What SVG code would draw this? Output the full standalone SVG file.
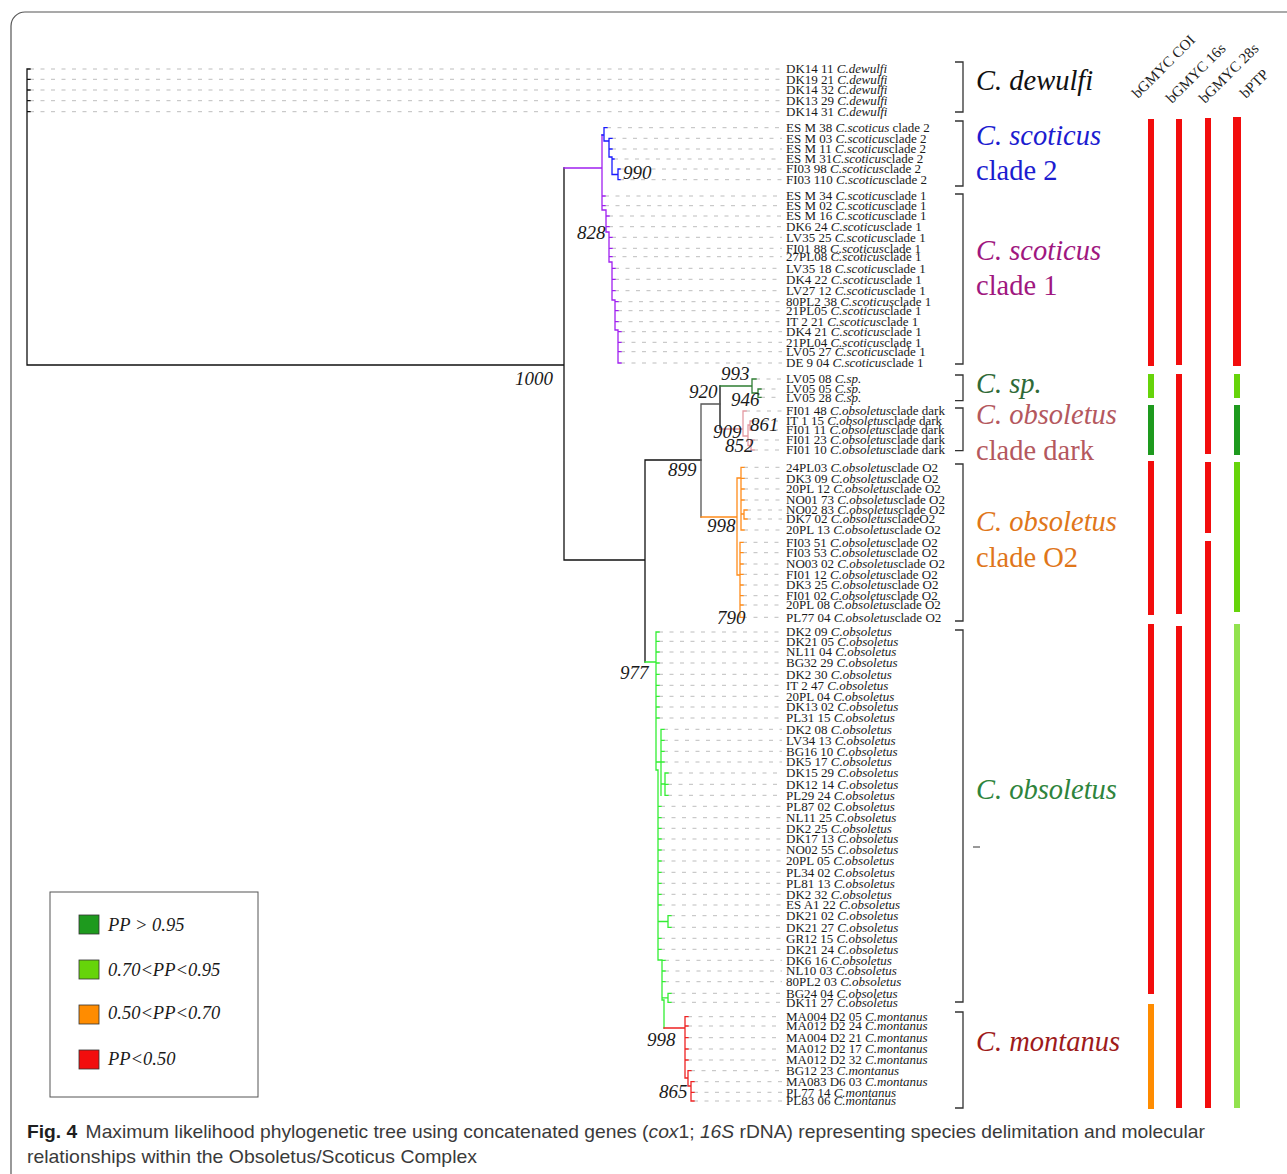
<svg xmlns="http://www.w3.org/2000/svg" width="1287" height="1174" viewBox="0 0 1287 1174">
<style>
.lf{font-family:"Liberation Serif",serif;font-size:13px;fill:#1a1a1a}
.i{font-style:italic}
.dash{fill:none;stroke:#bdbdbd;stroke-width:1;stroke-dasharray:4 6.5}
.br{fill:none;stroke-width:1.3;stroke-linecap:square}
.nl{font-family:"Liberation Serif",serif;font-style:italic;font-size:19px;fill:#1a1a1a}
.cl{font-family:"Liberation Serif",serif;font-size:28.5px}
.bk{fill:none;stroke:#333;stroke-width:1.3}
.hd{font-family:"Liberation Serif",serif;font-size:15px;fill:#222}
.lg{font-family:"Liberation Serif",serif;font-style:italic;font-size:18.5px;fill:#1a1a1a}
.sq{stroke:#333;stroke-width:0.8}
.cap{font-family:"Liberation Sans",sans-serif;font-size:18.5px;fill:#3a3a3a}
</style>
<rect x="11" y="12" width="1300" height="1220" rx="14" fill="#fff" stroke="#555" stroke-width="1.2"/>

<g id="connectors">
<path class="dash" d="M30,69H782M30,79.3H782M30,90H782M30,100.7H782M30,111.7H782
M607,127.7H782M612,138.3H782M612,149H782M614,159H782M620,169H782M620,179.7H782
M605,196H782M605,205.7H782M609,216H782M609,226.7H782M612,237.3H782M612,248.3H782M612,256.7H782M615,268.3H782M615,279.3H782M615,290.7H782M618,301.7H782M618,310.7H782M618,321.7H782M621,331.7H782M621,342.3H782M621,351.7H782M621,363H782
M756,379H782M761,389H782M761,397.3H782
M746,411H782M753,421H782M753,430H782M754,440H782M754,450H782
M744,467.3H782M744,478.3H782M744,489H782M744,500H782M747,510H782M747,519H782M744,530H782M743,542.3H782M743,552.7H782M743,564H782M743,574.3H782M743,585H782M743,595.7H782M743,605H782M743,617.3H782
M659,632H782M659,641.3H782M659,652H782M659,663H782M659,674.3H782M659,685.3H782M659,696.3H782M659,707H782M659,718H782
M664,729.3H782M664,740.3H782M664,751.3H782M664,762H782M668,773H782M668,784.3H782M668,795.3H782
M661,806.3H782M661,817.7H782M661,828.3H782M661,839H782M661,850H782M661,861H782M661,872.3H782M661,883.3H782M661,894.3H782M661,905H782
M671,915.7H782M671,927.3H782M661,938.3H782M661,949.3H782M665,960.3H782M665,971H782M665,981.7H782M671,993.3H782M671,1002.3H782
M688,1016.7H782M688,1026H782M688,1037.7H782M688,1049H782M688,1060H782M691,1070.7H782M694,1081.7H782M694,1092.3H782M694,1101H782"/>
<!-- backbone -->
<path class="br" stroke="#111" d="M27,69V365M27,69H30M27,79.3H30M27,90H30M27,100.7H30M27,111.7H30M27,365H564M564,168V560M564,560H645M645,460V662M645,460H701M720,386V429"/>
<path class="br" stroke="#555" stroke-width="1.6" d="M701,404V517M701,404H720"/>
<!-- scoticus clade 1 -->
<path class="br" stroke="#a020f0" d="M564,168H602M602,135V210H606V232H609V262H612V300H615V330H618V363
M602,196H605M602,205.7H605M606,216H609M606,226.7H609M609,237.3H612M609,248.3H612M609,256.7H612M612,268.3H615M612,279.3H615M612,290.7H615M615,301.7H618M615,310.7H618M615,321.7H618M618,331.7H621M618,342.3H621M618,351.7H621M618,363H621"/>
<!-- scoticus clade 2 -->
<path class="br" stroke="#1a1aff" d="M602,135H604M604,127.7V141M604,127.7H607M604,141H609M609,138.3V157M609,138.3H612M609,149H612M609,157H612M612,157V174.5M612,159H614M612,174.5H618M618,169V179.7M618,169H620M618,179.7H620"/>
<!-- C. sp. -->
<path class="br" stroke="#2e7d32" d="M720,386H752M752,379V393M752,379H756M752,393H758M758,389V397.3M758,389H761M758,397.3H761"/>
<!-- clade dark -->
<path class="br" stroke="#e39aa2" d="M720,429H743M743,411V436M743,411H746M743,436H748M748,425V445.5M748,425H750M750,421V430M750,421H753M750,430H753M748,445.5H751M751,440V450M751,440H754M751,450H754"/>
<!-- clade O2 -->
<path class="br" stroke="#ff8c1a" d="M701,517H737M737,478V575M737,478H741M741,467.3V530M741,467.3H744M741,478.3H744M741,489H744M741,500H744M741,514H744M744,510V519M744,510H747M744,519H747M741,530H744
M737,575H740M740,542.3V617.3M740,542.3H743M740,552.7H743M740,564H743M740,574.3H743M740,585H743M740,595.7H743M740,605H743M740,617.3H743"/>
<!-- obsoletus -->
<path class="br" stroke="#33ee33" d="M645,662H656M656,632V770H658V960H662V1000H664V1028
M656,632H659M656,641.3H659M656,652H659M656,663H659M656,674.3H659M656,685.3H659M656,696.3H659M656,707H659M656,718H659
M656,762H661M661,729.3V795.3M661,729.3H664M661,740.3H664M661,751.3H664M661,762H664M661,784H665M665,773V795.3M665,773H668M665,784.3H668M665,795.3H668
M658,806.3H661M658,817.7H661M658,828.3H661M658,839H661M658,850H661M658,861H661M658,872.3H661M658,883.3H661M658,894.3H661M658,905H661
M658,921.5H668M668,915.7V927.3M668,915.7H671M668,927.3H671M658,938.3H661M658,949.3H661
M662,960.3H665M662,971H665M662,981.7H665M662,997.8H668M668,993.3V1002.3M668,993.3H671M668,1002.3H671"/>
<!-- montanus -->
<path class="br" stroke="#ee2222" d="M664,1028H685M685,1016.7V1078M685,1016.7H688M685,1026H688M685,1037.7H688M685,1049H688M685,1060H688M685,1078H688M688,1070.7V1086M688,1070.7H691M688,1086H691M691,1081.7V1101M691,1081.7H694M691,1092.3H694M691,1101H694"/>
</g>

<g id="node-labels">
<text class="nl" x="623" y="179">990</text>
<text class="nl" x="577" y="239">828</text>
<text class="nl" x="515" y="385">1000</text>
<text class="nl" x="721" y="380">993</text>
<text class="nl" x="689" y="398">920</text>
<text class="nl" x="731" y="406">946</text>
<text class="nl" x="750" y="431">861</text>
<text class="nl" x="713" y="438">909</text>
<text class="nl" x="725" y="452">852</text>
<text class="nl" x="668" y="476">899</text>
<text class="nl" x="707" y="532">998</text>
<text class="nl" x="717" y="624">790</text>
<text class="nl" x="620" y="679">977</text>
<text class="nl" x="647" y="1046">998</text>
<text class="nl" x="659" y="1098">865</text>
</g>

<g id="clade-dewulfi" class="lf">
<text x="786" y="73.3">DK14 11 <tspan class="i">C.dewulfi</tspan></text>
<text x="786" y="83.6">DK19 21 <tspan class="i">C.dewulfi</tspan></text>
<text x="786" y="94.3">DK14 32 <tspan class="i">C.dewulfi</tspan></text>
<text x="786" y="105">DK13 29 <tspan class="i">C.dewulfi</tspan></text>
<text x="786" y="116">DK14 31 <tspan class="i">C.dewulfi</tspan></text>
</g>
<g id="clade-scoticus-2" class="lf">
<text x="786" y="132">ES M 38 <tspan class="i">C.scoticus</tspan> clade 2</text>
<text x="786" y="142.6">ES M 03 <tspan class="i">C.scoticus</tspan>clade 2</text>
<text x="786" y="153.3">ES M 11 <tspan class="i">C.scoticus</tspan>clade 2</text>
<text x="786" y="163.3">ES M 31<tspan class="i">C.scoticus</tspan>clade 2</text>
<text x="786" y="173.3">FI03 98 <tspan class="i">C.scoticus</tspan>clade 2</text>
<text x="786" y="184">FI03 110 <tspan class="i">C.scoticus</tspan>clade 2</text>
</g>
<g id="clade-scoticus-1" class="lf">
<text x="786" y="200.3">ES M 34 <tspan class="i">C.scoticus</tspan>clade 1</text>
<text x="786" y="210">ES M 02 <tspan class="i">C.scoticus</tspan>clade 1</text>
<text x="786" y="220.3">ES M 16 <tspan class="i">C.scoticus</tspan>clade 1</text>
<text x="786" y="231">DK6 24 <tspan class="i">C.scoticus</tspan>clade 1</text>
<text x="786" y="241.6">LV35 25 <tspan class="i">C.scoticus</tspan>clade 1</text>
<text x="786" y="252.6">FI01 88 <tspan class="i">C.scoticus</tspan>clade 1</text>
<text x="786" y="261">27PL08 <tspan class="i">C.scoticus</tspan>clade 1</text>
<text x="786" y="272.6">LV35 18 <tspan class="i">C.scoticus</tspan>clade 1</text>
<text x="786" y="283.6">DK4 22 <tspan class="i">C.scoticus</tspan>clade 1</text>
<text x="786" y="295">LV27 12 <tspan class="i">C.scoticus</tspan>clade 1</text>
<text x="786" y="306">80PL2 38 <tspan class="i">C.scoticus</tspan>clade 1</text>
<text x="786" y="315">21PL05 <tspan class="i">C.scoticus</tspan>clade 1</text>
<text x="786" y="326">IT 2 21 <tspan class="i">C.scoticus</tspan>clade 1</text>
<text x="786" y="336">DK4 21 <tspan class="i">C.scoticus</tspan>clade 1</text>
<text x="786" y="346.6">21PL04 <tspan class="i">C.scoticus</tspan>clade 1</text>
<text x="786" y="356">LV05 27 <tspan class="i">C.scoticus</tspan>clade 1</text>
<text x="786" y="367.3">DE 9 04 <tspan class="i">C.scoticus</tspan>clade 1</text>
</g>
<g id="clade-sp" class="lf">
<text x="786" y="383.3">LV05 08 <tspan class="i">C.sp.</tspan></text>
<text x="786" y="393.3">LV05 05 <tspan class="i">C.sp.</tspan></text>
<text x="786" y="401.6">LV05 28 <tspan class="i">C.sp.</tspan></text>
</g>
<g id="clade-dark" class="lf">
<text x="786" y="415.3">FI01 48 <tspan class="i">C.obsoletus</tspan>clade dark</text>
<text x="786" y="425.3">IT 1 15 <tspan class="i">C.obsoletus</tspan>clade dark</text>
<text x="786" y="434.3">FI01 11 <tspan class="i">C.obsoletus</tspan>clade dark</text>
<text x="786" y="444.3">FI01 23 <tspan class="i">C.obsoletus</tspan>clade dark</text>
<text x="786" y="454.3">FI01 10 <tspan class="i">C.obsoletus</tspan>clade dark</text>
</g>
<g id="clade-O2" class="lf">
<text x="786" y="471.6">24PL03 <tspan class="i">C.obsoletus</tspan>clade O2</text>
<text x="786" y="482.6">DK3 09 <tspan class="i">C.obsoletus</tspan>clade O2</text>
<text x="786" y="493.3">20PL 12 <tspan class="i">C.obsoletus</tspan>clade O2</text>
<text x="786" y="504.3">NO01 73 <tspan class="i">C.obsoletus</tspan>clade O2</text>
<text x="786" y="514.3">NO02 83 <tspan class="i">C.obsoletus</tspan>clade O2</text>
<text x="786" y="523.3">DK7 02 <tspan class="i">C.obsoletus</tspan>cladeO2</text>
<text x="786" y="534.3">20PL 13 <tspan class="i">C.obsoletus</tspan>clade O2</text>
<text x="786" y="546.6">FI03 51 <tspan class="i">C.obsoletus</tspan>clade O2</text>
<text x="786" y="557">FI03 53 <tspan class="i">C.obsoletus</tspan>clade O2</text>
<text x="786" y="568.3">NO03 02 <tspan class="i">C.obsoletus</tspan>clade O2</text>
<text x="786" y="578.6">FI01 12 <tspan class="i">C.obsoletus</tspan>clade O2</text>
<text x="786" y="589.3">DK3 25 <tspan class="i">C.obsoletus</tspan>clade O2</text>
<text x="786" y="600">FI01 02 <tspan class="i">C.obsoletus</tspan>clade O2</text>
<text x="786" y="609.3">20PL 08 <tspan class="i">C.obsoletus</tspan>clade O2</text>
<text x="786" y="621.6">PL77 04 <tspan class="i">C.obsoletus</tspan>clade O2</text>
</g>
<g id="clade-obsoletus" class="lf">
<text x="786" y="636.3">DK2 09 <tspan class="i">C.obsoletus</tspan></text>
<text x="786" y="645.6">DK21 05 <tspan class="i">C.obsoletus</tspan></text>
<text x="786" y="656.3">NL11 04 <tspan class="i">C.obsoletus</tspan></text>
<text x="786" y="667.3">BG32 29 <tspan class="i">C.obsoletus</tspan></text>
<text x="786" y="678.6">DK2 30 <tspan class="i">C.obsoletus</tspan></text>
<text x="786" y="689.6">IT 2 47 <tspan class="i">C.obsoletus</tspan></text>
<text x="786" y="700.6">20PL 04 <tspan class="i">C.obsoletus</tspan></text>
<text x="786" y="711.3">DK13 02 <tspan class="i">C.obsoletus</tspan></text>
<text x="786" y="722.3">PL31 15 <tspan class="i">C.obsoletus</tspan></text>
<text x="786" y="733.6">DK2 08 <tspan class="i">C.obsoletus</tspan></text>
<text x="786" y="744.6">LV34 13 <tspan class="i">C.obsoletus</tspan></text>
<text x="786" y="755.6">BG16 10 <tspan class="i">C.obsoletus</tspan></text>
<text x="786" y="766.3">DK5 17 <tspan class="i">C.obsoletus</tspan></text>
<text x="786" y="777.3">DK15 29 <tspan class="i">C.obsoletus</tspan></text>
<text x="786" y="788.6">DK12 14 <tspan class="i">C.obsoletus</tspan></text>
<text x="786" y="799.6">PL29 24 <tspan class="i">C.obsoletus</tspan></text>
<text x="786" y="810.6">PL87 02 <tspan class="i">C.obsoletus</tspan></text>
<text x="786" y="822">NL11 25 <tspan class="i">C.obsoletus</tspan></text>
<text x="786" y="832.6">DK2 25 <tspan class="i">C.obsoletus</tspan></text>
<text x="786" y="843.3">DK17 13 <tspan class="i">C.obsoletus</tspan></text>
<text x="786" y="854.3">NO02 55 <tspan class="i">C.obsoletus</tspan></text>
<text x="786" y="865.3">20PL 05 <tspan class="i">C.obsoletus</tspan></text>
<text x="786" y="876.6">PL34 02 <tspan class="i">C.obsoletus</tspan></text>
<text x="786" y="887.6">PL81 13 <tspan class="i">C.obsoletus</tspan></text>
<text x="786" y="898.6">DK2 32 <tspan class="i">C.obsoletus</tspan></text>
<text x="786" y="909.3">ES A1 22 <tspan class="i">C.obsoletus</tspan></text>
<text x="786" y="920">DK21 02 <tspan class="i">C.obsoletus</tspan></text>
<text x="786" y="931.6">DK21 27 <tspan class="i">C.obsoletus</tspan></text>
<text x="786" y="942.6">GR12 15 <tspan class="i">C.obsoletus</tspan></text>
<text x="786" y="953.6">DK21 24 <tspan class="i">C.obsoletus</tspan></text>
<text x="786" y="964.6">DK6 16 <tspan class="i">C.obsoletus</tspan></text>
<text x="786" y="975.3">NL10 03 <tspan class="i">C.obsoletus</tspan></text>
<text x="786" y="986">80PL2 03 <tspan class="i">C.obsoletus</tspan></text>
<text x="786" y="997.6">BG24 04 <tspan class="i">C.obsoletus</tspan></text>
<text x="786" y="1006.6">DK11 27 <tspan class="i">C.obsoletus</tspan></text>
</g>
<g id="clade-montanus" class="lf">
<text x="786" y="1021">MA004 D2 05 <tspan class="i">C.montanus</tspan></text>
<text x="786" y="1030.3">MA012 D2 24 <tspan class="i">C.montanus</tspan></text>
<text x="786" y="1042">MA004 D2 21 <tspan class="i">C.montanus</tspan></text>
<text x="786" y="1053.3">MA012 D2 17 <tspan class="i">C.montanus</tspan></text>
<text x="786" y="1064.3">MA012 D2 32 <tspan class="i">C.montanus</tspan></text>
<text x="786" y="1075">BG12 23 <tspan class="i">C.montanus</tspan></text>
<text x="786" y="1086">MA083 D6 03 <tspan class="i">C.montanus</tspan></text>
<text x="786" y="1096.6">PL77 14 <tspan class="i">C.montanus</tspan></text>
<text x="786" y="1105.3">PL83 06 <tspan class="i">C.montanus</tspan></text>
</g>

<g id="brackets">
<path class="bk" d="M955,62H963V112H955M955,121H963V186H955M955,194H963V364H955M955,375H963V400.7H955M955,408H963V450.7H955M955,464H963V621H955M955,630H963V1002H955M955,1012H963V1108H955"/>
<path stroke="#333" stroke-width="1" d="M973,847H980"/>
</g>

<g id="species-labels" class="cl">
<text x="976" y="90" fill="#111" font-style="italic">C. dewulfi</text>
<text x="976" y="145" fill="#1c1cd0" font-style="italic">C. scoticus</text>
<text x="976" y="180" fill="#1c1cd0">clade 2</text>
<text x="976" y="260" fill="#a0177f" font-style="italic">C. scoticus</text>
<text x="976" y="295" fill="#a0177f">clade 1</text>
<text x="976" y="393" fill="#2f6a38" font-style="italic">C. sp.</text>
<text x="976" y="424" fill="#b4585e" font-style="italic">C. obsoletus</text>
<text x="976" y="460" fill="#b4585e">clade dark</text>
<text x="976" y="531" fill="#e0761a" font-style="italic">C. obsoletus</text>
<text x="976" y="567" fill="#e0761a">clade O2</text>
<text x="976" y="799" fill="#2e843c" font-style="italic">C. obsoletus</text>
<text x="976" y="1051" fill="#9e1b1b" font-style="italic">C. montanus</text>
</g>

<g id="delimitation-headers" class="hd">
<text transform="translate(1138,99) rotate(-45)">bGMYC COI</text>
<text transform="translate(1172,104) rotate(-45)">bGMYC 16s</text>
<text transform="translate(1205,104) rotate(-45)">bGMYC 28s</text>
<text transform="translate(1246,99) rotate(-45)">bPTP</text>
</g>

<g id="delimitation-bars">
<rect x="1148" y="119" width="6" height="247" fill="#f20d0d"/>
<rect x="1148" y="374" width="6" height="24" fill="#66d40a"/>
<rect x="1148" y="405" width="6" height="50" fill="#1e9a1e"/>
<rect x="1148" y="461" width="6" height="154" fill="#f20d0d"/>
<rect x="1148" y="624" width="6" height="370" fill="#f20d0d"/>
<rect x="1148" y="1004" width="6" height="105" fill="#ff8c00"/>
<rect x="1176" y="119" width="6" height="246" fill="#f20d0d"/>
<rect x="1176" y="374" width="6" height="240" fill="#f20d0d"/>
<rect x="1176" y="626" width="6" height="482" fill="#f20d0d"/>
<rect x="1205" y="118" width="6" height="336" fill="#f20d0d"/>
<rect x="1205" y="462" width="6" height="71" fill="#f20d0d"/>
<rect x="1205" y="541" width="6" height="567" fill="#f20d0d"/>
<rect x="1233" y="117" width="8" height="249" fill="#f20d0d"/>
<rect x="1234" y="374" width="6" height="24" fill="#66d40a"/>
<rect x="1234" y="405" width="6" height="50" fill="#1e9a1e"/>
<rect x="1234" y="462" width="6" height="150" fill="#66d40a"/>
<rect x="1234" y="624" width="6" height="484" fill="#92e24e"/>
</g>

<g id="legend">
<rect x="50" y="892" width="208" height="205" fill="#fff" stroke="#555" stroke-width="1"/>
<rect class="sq" x="79" y="915" width="20" height="19" fill="#1e9a1e"/>
<rect class="sq" x="79" y="960" width="20" height="19" fill="#66d40a"/>
<rect class="sq" x="79" y="1005" width="20" height="19" fill="#ff8c00"/>
<rect class="sq" x="79" y="1050" width="20" height="19" fill="#f20d0d"/>
<text class="lg" x="108" y="931">PP &gt; 0.95</text>
<text class="lg" x="108" y="976">0.70&lt;PP&lt;0.95</text>
<text class="lg" x="108" y="1019">0.50&lt;PP&lt;0.70</text>
<text class="lg" x="108" y="1065">PP&lt;0.50</text>
</g>

<g id="caption" class="cap">
<text x="27" y="1138" textLength="1178" lengthAdjust="spacingAndGlyphs"><tspan font-weight="bold" fill="#1f1f1f">Fig. 4</tspan><tspan dx="8">Maximum likelihood phylogenetic tree using concatenated genes (</tspan><tspan font-style="italic">cox</tspan>1; <tspan font-style="italic">16S</tspan> rDNA) representing species delimitation and molecular</text>
<text x="27" y="1163" textLength="450" lengthAdjust="spacingAndGlyphs">relationships within the Obsoletus/Scoticus Complex</text>
</g>
</svg>
